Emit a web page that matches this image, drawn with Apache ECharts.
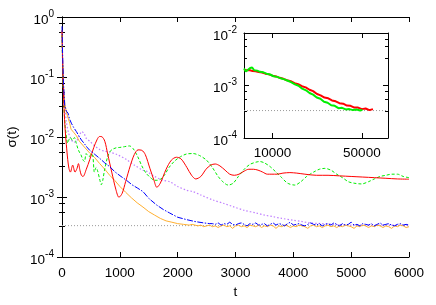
<!DOCTYPE html>
<html><head><meta charset="utf-8">
<script src="https://cdn.jsdelivr.net/npm/echarts@6/dist/echarts.min.js"></script>
<style>html,body{margin:0;padding:0;background:#fff}#c{width:436px;height:305px}</style>
</head><body><div id="c"></div><script>
// ---------- data (t, sigma) ----------
const xTicksMain = [0, 1000, 2000, 3000, 4000, 5000, 6000];
const insetXLabels = [10000, 50000];
const refLevel = 3.33e-4;

const redMain = [[0,0.6],[15,0.12],[35,0.03],[55,0.013],[75,0.0075],[99,0.0042],[120,0.003],[145,0.0026],[185,0.0034],[225,0.0026],[260,0.003],[284,0.0036],[310,0.0028],[335,0.0023],[363,0.0022],[420,0.0029],[480,0.0042],[550,0.0067],[610,0.0092],[650,0.0102],[690,0.0101],[740,0.0085],[790,0.0052],[860,0.0026],[930,0.00135],[985,0.00099],[1040,0.00115],[1100,0.0018],[1180,0.0033],[1250,0.0051],[1315,0.0061],[1380,0.006],[1440,0.0051],[1520,0.003],[1590,0.0019],[1640,0.00145],[1700,0.0017],[1800,0.0029],[1890,0.0041],[1979,0.0046],[2060,0.0043],[2160,0.0031],[2240,0.0023],[2313,0.002],[2400,0.0022],[2490,0.0029],[2570,0.0034],[2650,0.00355],[2730,0.0033],[2820,0.0028],[2900,0.0024],[2980,0.0023],[3060,0.0024],[3150,0.0027],[3230,0.0029],[3310,0.0029],[3390,0.0028],[3470,0.0026],[3550,0.0024],[3630,0.0024],[3720,0.0024],[3820,0.0025],[3940,0.00255],[4060,0.0025],[4200,0.0024],[4400,0.0023],[4600,0.0023],[4800,0.00225],[5000,0.0022],[5200,0.00215],[5400,0.0021],[5600,0.00205],[5800,0.002],[6000,0.00198]];

const greenMain = [[0,0.5],[15,0.1],[35,0.03],[55,0.015],[69,0.0115],[99,0.0079],[120,0.009],[145,0.0098],[180,0.0088],[215,0.0098],[245,0.008],[272,0.0065],[300,0.0056],[330,0.005],[360,0.0042],[388,0.0039],[417,0.0053],[445,0.0049],[474,0.0047],[500,0.0052],[531,0.005],[560,0.0026],[590,0.0031],[617,0.0027],[650,0.002],[680,0.0016],[705,0.0019],[735,0.0028],[790,0.0047],[848,0.006],[935,0.0066],[1000,0.0067],[1080,0.0069],[1166,0.0071],[1230,0.0064],[1310,0.0047],[1380,0.0033],[1453,0.0025],[1530,0.0021],[1600,0.0019],[1650,0.0019],[1710,0.002],[1770,0.0023],[1850,0.0031],[1950,0.004],[2050,0.0047],[2150,0.0052],[2266,0.0053],[2380,0.0049],[2500,0.0041],[2600,0.0031],[2700,0.0022],[2780,0.0018],[2872,0.00158],[2960,0.0017],[3050,0.0022],[3150,0.0029],[3250,0.0035],[3350,0.0038],[3420,0.0039],[3500,0.0037],[3600,0.0032],[3700,0.0026],[3800,0.0021],[3900,0.0017],[4026,0.00158],[4130,0.0018],[4230,0.0022],[4350,0.0026],[4450,0.0029],[4545,0.003],[4650,0.0028],[4750,0.0024],[4850,0.0021],[4950,0.0018],[5050,0.0017],[5180,0.00165],[5300,0.0018],[5400,0.002],[5500,0.0022],[5600,0.0023],[5700,0.0024],[5800,0.0024],[5900,0.0022],[6000,0.0021]];

const purpleMain = [[0,0.55],[10,0.2],[25,0.07],[50,0.03],[80,0.017],[110,0.012],[150,0.0095],[200,0.0082],[250,0.0085],[300,0.0105],[340,0.0123],[380,0.0115],[420,0.0095],[480,0.0085],[560,0.0072],[650,0.0062],[740,0.0058],[825,0.0056],[950,0.0051],[1114,0.0042],[1250,0.0034],[1400,0.0028],[1460,0.0027],[1600,0.0022],[1750,0.0019],[1863,0.0018],[2000,0.0015],[2150,0.0013],[2266,0.00123],[2400,0.00108],[2612,0.00089],[2800,0.00078],[2958,0.00069],[3150,0.0006],[3363,0.00054],[3500,0.0005],[3651,0.00047],[3800,0.00044],[3997,0.00041],[4150,0.00039],[4285,0.00037],[4500,0.00036],[4689,0.00035],[5000,0.00034],[5500,0.00034],[6000,0.00034]];

const blueMain = [[0,0.7],[10,0.25],[25,0.08],[47,0.034],[75,0.027],[104,0.025],[130,0.02],[162,0.017],[200,0.0145],[249,0.0123],[290,0.0105],[336,0.0089],[380,0.0079],[430,0.0068],[479,0.006],[560,0.0052],[652,0.0044],[740,0.0037],[825,0.0032],[920,0.0026],[1020,0.0022],[1114,0.0019],[1210,0.0016],[1310,0.0014],[1401,0.00123],[1500,0.00095],[1633,0.00074],[1750,0.00062],[1863,0.00054],[2000,0.00046],[2152,0.00042],[2300,0.00039],[2450,0.00037],[2555,0.00036],
[2600,3.6e-4],[2650,3.5e-4],[2700,3.7e-4],[2750,3.4e-4],[2800,3.6e-4],[2850,3.5e-4],[2900,3.8e-4],[2950,3.5e-4],[3000,3.4e-4],[3050,3.6e-4],
[3100,3.7e-4],[3150,3.5e-4],[3200,3.3e-4],[3250,3.6e-4],[3300,3.5e-4],[3350,3.7e-4],[3400,3.4e-4],[3450,3.5e-4],[3500,3.6e-4],[3550,3.3e-4],
[3600,3.5e-4],[3650,3.7e-4],[3700,3.4e-4],[3750,3.6e-4],[3800,3.5e-4],[3850,3.3e-4],[3900,3.6e-4],[3950,3.8e-4],[4000,3.4e-4],[4050,3.5e-4],
[4100,3.6e-4],[4150,3.4e-4],[4200,3.3e-4],[4250,3.5e-4],[4300,3.7e-4],[4350,3.5e-4],[4400,3.4e-4],[4450,3.6e-4],[4500,3.3e-4],[4550,3.5e-4],
[4600,3.6e-4],[4650,3.4e-4],[4700,3.7e-4],[4750,3.5e-4],[4800,3.3e-4],[4850,3.6e-4],[4900,3.4e-4],[4950,3.5e-4],[5000,3.8e-4],[5050,3.4e-4],
[5100,3.5e-4],[5150,3.3e-4],[5200,3.6e-4],[5250,3.5e-4],[5300,3.4e-4],[5350,3.6e-4],[5400,3.3e-4],[5450,3.5e-4],[5500,3.7e-4],[5550,3.4e-4],
[5600,3.5e-4],[5650,3.6e-4],[5700,3.4e-4],[5750,3.3e-4],[5800,3.5e-4],[5850,3.6e-4],[5900,3.4e-4],[5950,3.5e-4],[6000,3.4e-4]];

const orangeMain = [[0,0.6],[10,0.2],[25,0.07],[50,0.035],[80,0.025],[110,0.02],[133,0.017],[156,0.0135],[200,0.012],[249,0.0105],[300,0.0085],[387,0.0068],[479,0.0054],[560,0.0046],[652,0.0036],[740,0.0029],[825,0.0023],[910,0.0019],[1000,0.0015],[1100,0.0012],[1200,0.00097],[1300,0.0008],[1400,0.00068],[1500,0.00057],[1600,0.0005],[1700,0.00044],[1800,0.0004],[1900,0.00038],[2000,0.00036],[2100,0.00035],[2200,0.00034],[2250,3.5e-4],
[2300,3.4e-4],[2350,3.3e-4],[2400,3.4e-4],[2450,3.2e-4],[2500,3.3e-4],[2550,3.4e-4],[2600,3.2e-4],[2650,3.3e-4],[2700,3.1e-4],[2750,3.3e-4],
[2800,3.4e-4],[2850,3.2e-4],[2900,3.3e-4],[2950,3.0e-4],[3000,3.3e-4],[3050,3.4e-4],[3100,3.2e-4],[3150,3.3e-4],[3200,3.1e-4],[3250,3.4e-4],
[3300,3.3e-4],[3350,3.2e-4],[3400,3.4e-4],[3450,3.1e-4],[3500,3.3e-4],[3550,3.2e-4],[3600,3.4e-4],[3650,3.3e-4],[3700,3.0e-4],[3750,3.3e-4],
[3800,3.2e-4],[3850,3.4e-4],[3900,3.3e-4],[3950,3.1e-4],[4000,3.3e-4],[4050,3.2e-4],[4100,3.4e-4],[4150,3.3e-4],[4200,3.2e-4],[4250,3.0e-4],
[4300,3.3e-4],[4350,3.4e-4],[4400,3.2e-4],[4450,3.3e-4],[4500,3.1e-4],[4550,3.3e-4],[4600,3.4e-4],[4650,3.2e-4],[4700,3.3e-4],[4750,3.1e-4],
[4800,3.3e-4],[4850,3.2e-4],[4900,3.4e-4],[4950,3.3e-4],[5000,3.2e-4],[5050,3.0e-4],[5100,3.3e-4],[5150,3.2e-4],[5200,3.4e-4],[5250,3.3e-4],
[5300,3.1e-4],[5350,3.3e-4],[5400,3.2e-4],[5450,3.4e-4],[5500,3.3e-4],[5550,3.1e-4],[5600,3.3e-4],[5650,3.2e-4],[5700,3.0e-4],[5750,3.3e-4],
[5800,3.2e-4],[5850,3.4e-4],[5900,3.3e-4],[5950,3.1e-4],[6000,3.2e-4]];

const greenInset = [[6000,2.1e-3],[6200,1.85e-3],[6450,2.0e-3],[6700,2.15e-3],[6950,2.2e-3],[7200,1.95e-3],[7600,1.92e-3],[8000,1.82e-3],[8500,1.78e-3],[9000,1.68e-3],[9600,1.62e-3],[10200,1.5e-3],[10900,1.46e-3],[11600,1.37e-3],[12400,1.31e-3],[13200,1.23e-3],[14100,1.15e-3],[15000,1.05e-3],[16000,9.9e-4],[17100,8.7e-4],[18300,8.1e-4],[19500,7.2e-4],[20800,6.7e-4],[22200,5.9e-4],[23700,5.6e-4],[25300,4.9e-4],[27000,4.7e-4],[28800,4.2e-4],[30700,4.1e-4],[32800,3.7e-4],[35000,3.75e-4],[37400,3.5e-4],[39900,3.55e-4],[42600,3.4e-4],[45500,3.5e-4],[48500,3.35e-4],[50500,3.45e-4]];

const redInset = [[6000,2.0e-3],[6300,1.96e-3],[6600,1.97e-3],[7000,1.88e-3],[7400,1.87e-3],[7800,1.8e-3],[8300,1.77e-3],[8800,1.68e-3],[9400,1.63e-3],[10000,1.54e-3],[10700,1.49e-3],[11400,1.4e-3],[12200,1.34e-3],[13000,1.26e-3],[13900,1.21e-3],[14900,1.11e-3],[15900,1.06e-3],[17000,9.7e-4],[18200,9.2e-4],[19500,8.3e-4],[20800,7.8e-4],[22300,6.9e-4],[23800,6.5e-4],[25500,5.9e-4],[27300,5.7e-4],[29200,5.2e-4],[31200,5.0e-4],[33400,4.6e-4],[35700,4.5e-4],[38200,4.15e-4],[40800,4.1e-4],[43700,3.8e-4],[46700,3.8e-4],[50000,3.55e-4],[53500,3.65e-4],[57200,3.4e-4],[61000,3.55e-4]];

// ---------- chart ----------
const FONT = '"Liberation Sans", Arial, sans-serif';
const supFmt = v => '{b|10}{e|' + Math.round(Math.log10(v)) + '}';
const rich = {
  b: {fontSize: 13.5, fontFamily: FONT, color: '#000', padding: [6, 0, 0, 0]},
  e: {fontSize: 10, fontFamily: FONT, color: '#000', padding: [0, 0, 6, 0]}
};
const line = {lineStyle: {color: '#000', width: 1}};
const tick = {inside: true, length: 5, lineStyle: {color: '#000', width: 1}};
const minor = {show: true, splitNumber: 4, length: 3, lineStyle: {color: '#000', width: 1}};

const chart = echarts.init(document.getElementById('c'), null, {renderer: 'canvas'});
chart.setOption({
  animation: false,
  backgroundColor: '#fff',
  grid: [
    {left: 62, top: 17, width: 347, height: 240, containLabel: false, outerBoundsMode: 'none'},
    {left: 244, top: 33, width: 144, height: 105, containLabel: false, outerBoundsMode: 'none', show: true, backgroundColor: '#fff', borderWidth: 0}
  ],
  xAxis: [
    {gridIndex: 0, type: 'value', min: 0, max: 6000, interval: 1000, position: 'bottom',
     axisLine: line, axisTick: tick, splitLine: {show: false},
     axisLabel: {fontSize: 13.5, fontFamily: FONT, color: '#000', margin: 9, formatter: v => String(v)},
     name: 't', nameLocation: 'middle', nameGap: 28, nameTextStyle: {fontSize: 13.5, fontFamily: FONT, color: '#000'}},
    {gridIndex: 0, type: 'value', min: 0, max: 6000, interval: 1000, position: 'top',
     axisLine: line, axisTick: tick, splitLine: {show: false}, axisLabel: {show: false}},
    {gridIndex: 1, type: 'log', logBase: 10, min: 6000, max: 80000, position: 'bottom',
     axisLine: line, axisTick: Object.assign({customValues: insetXLabels}, tick), splitLine: {show: false},
     minorTick: {show: false},
     axisLabel: {customValues: insetXLabels, fontSize: 13.5, fontFamily: FONT, color: '#000', margin: 8, formatter: v => String(v)}},
    {gridIndex: 1, type: 'log', logBase: 10, min: 6000, max: 80000, position: 'top',
     axisLine: line, axisTick: Object.assign({customValues: insetXLabels}, tick), splitLine: {show: false},
     axisLabel: {show: false}}
  ],
  yAxis: [
    {gridIndex: 0, type: 'log', logBase: 10, min: 1e-4, max: 1, interval: 1, position: 'left',
     axisLine: line, axisTick: tick, minorTick: minor, splitLine: {show: false},
     axisLabel: {formatter: supFmt, rich: rich, margin: 8},
     name: 'σ(t)', nameLocation: 'middle', nameGap: 37, nameTextStyle: {fontSize: 13.5, fontFamily: FONT, color: '#000'}},
    {gridIndex: 0, type: 'log', logBase: 10, min: 1e-4, max: 1, interval: 1, position: 'right',
     axisLine: line, axisTick: tick, minorTick: minor, splitLine: {show: false}, axisLabel: {show: false}},
    {gridIndex: 1, type: 'log', logBase: 10, min: 1e-4, max: 1e-2, interval: 1, position: 'left',
     axisLine: line, axisTick: tick, minorTick: minor, splitLine: {show: false},
     axisLabel: {formatter: supFmt, rich: rich, margin: 7}},
    {gridIndex: 1, type: 'log', logBase: 10, min: 1e-4, max: 1e-2, interval: 1, position: 'right',
     axisLine: line, axisTick: tick, minorTick: minor, splitLine: {show: false}, axisLabel: {show: false}}
  ],
  series: [
    {type: 'line', xAxisIndex: 0, yAxisIndex: 0, data: [[0, refLevel], [6000, refLevel]], showSymbol: false, silent: true,
     lineStyle: {color: '#999', width: 1, type: [1, 2]}},
    {type: 'line', xAxisIndex: 0, yAxisIndex: 0, data: purpleMain, showSymbol: false, smooth: 0.3,
     lineStyle: {color: '#c080ff', width: 1.2, type: [1.5, 2]}},
    {type: 'line', xAxisIndex: 0, yAxisIndex: 0, data: orangeMain, showSymbol: false,
     lineStyle: {color: '#ffb030', width: 1}},
    {type: 'line', xAxisIndex: 0, yAxisIndex: 0, data: greenMain, showSymbol: false, smooth: 0.3,
     lineStyle: {color: '#00ee00', width: 1, type: [3, 2]}},
    {type: 'line', xAxisIndex: 0, yAxisIndex: 0, data: redMain, showSymbol: false, smooth: 0.3,
     lineStyle: {color: '#ff0000', width: 1}},
    {type: 'line', xAxisIndex: 0, yAxisIndex: 0, data: blueMain, showSymbol: false,
     lineStyle: {color: '#0000ff', width: 1, type: [6, 1.5, 1.5, 1.5]}},
    {type: 'line', xAxisIndex: 2, yAxisIndex: 2, data: [[6000, refLevel], [80000, refLevel]], showSymbol: false, silent: true,
     lineStyle: {color: '#999', width: 1, type: [1, 2]}},
    {type: 'line', xAxisIndex: 2, yAxisIndex: 2, data: redInset, showSymbol: false,
     lineStyle: {color: '#ff0000', width: 2}},
    {type: 'line', xAxisIndex: 2, yAxisIndex: 2, data: greenInset, showSymbol: false,
     lineStyle: {color: '#00ee00', width: 2}}
  ]
});
</script></body></html>
